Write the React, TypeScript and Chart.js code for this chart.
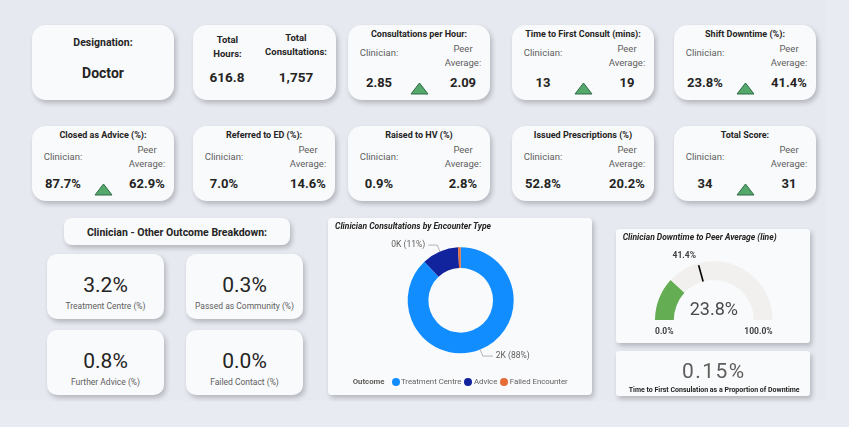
import React, { useEffect, useRef } from "react";
import { Chart, registerables } from "chart.js";

Chart.register(...registerables);

const FONT = 'Roboto, "DejaVu Sans", sans-serif';

// ---------- data ----------
const designationLabel = "Designation:";
const designation = "Doctor";
const totalHours = "616.8";
const totalConsultations = "1,757";

const row1Titles = ["Consultations per Hour:", "Time to First Consult (mins):", "Shift Downtime (%):"];
const row1Clinician = ["2.85", "13", "23.8%"];
const row1Peer = ["2.09", "19", "41.4%"];
const row1Up = [true, true, true];

const row2Titles = ["Closed as Advice (%):", "Referred to ED (%):", "Raised to HV (%)", "Issued Prescriptions (%)", "Total Score:"];
const row2Clinician = ["87.7%", "7.0%", "0.9%", "52.8%", "34"];
const row2Peer = ["62.9%", "14.6%", "2.8%", "20.2%", "31"];
const row2Up = [true, false, false, false, true];

const breakdownHeader = "Clinician - Other Outcome Breakdown:";
const breakdownLabels = ["Treatment Centre (%)", "Passed as Community (%)", "Further Advice (%)", "Failed Contact (%)"];
const breakdownValues = ["3.2%", "0.3%", "0.8%", "0.0%"];

const donutTitle = "Clinician Consultations by Encounter Type";
const donutLegendTitle = "Outcome";
const donutLabels = ["Treatment Centre", "Advice", "Failed Encounter"];
const donutValues = [1546, 197, 14];

const gaugeTitle = "Clinician Downtime to Peer Average (line)";
const gaugeValue = 23.8;
const gaugeTarget = 41.4;
const gaugeMin = 0;
const gaugeMax = 100;

const ratioValue = "0.15%";
const ratioLabel = "Time to First Consulation as a Proportion of Downtime";

// ---------- styles ----------
const donutColors = ["#118DFF", "#12239E", "#E66C37"];
const gaugeColors = ["#64AD52", "#F1F0EE"];
const BG = "#E7E9F1";
const CARD = "#F9FAFC";
const DARK = "#252423";
const GREY = "#605E5C";
const cardX = [32, 193, 348, 512, 674];
const CARD_W = 142;

type TProps = {
  x: number; y: number; align?: "left" | "center" | "right";
  size: number; weight?: number; color?: string; italic?: boolean; spacing?: number;
  children: React.ReactNode;
};
function T({ x, y, align = "center", size, weight = 400, color = DARK, italic, spacing, children }: TProps) {
  const tx = align === "left" ? "0" : align === "right" ? "-100%" : "-50%";
  return (
    <div
      style={{
        position: "absolute", left: x, top: y, transform: `translate(${tx}, -50%)`,
        whiteSpace: "nowrap", lineHeight: 1, fontSize: size, fontWeight: weight, color,
        fontStyle: italic ? "italic" : "normal", fontFamily: FONT, letterSpacing: spacing,
      }}
    >
      {children}
    </div>
  );
}

function Card({ x, y, w, h, r, children }: { x: number; y: number; w: number; h: number; r: number; children?: React.ReactNode }) {
  return (
    <div
      style={{
        position: "absolute", left: x, top: y, width: w, height: h, borderRadius: r,
        background: CARD, boxShadow: "2px 3px 5px rgba(0,0,0,0.22)", overflow: "visible",
      }}
    >
      {children}
    </div>
  );
}

function Triangle({ cx, base }: { cx: number; base: number }) {
  return (
    <svg width={19} height={13} style={{ position: "absolute", left: cx - 9.5, top: base - 12 }}>
      <polygon points="9.5,1 18,12 1,12" fill="#55A86C" stroke="#2E6A44" strokeWidth={1} />
    </svg>
  );
}

function CompareCard({ x, y, title, clin, peer, up, labelY, valueY }: {
  x: number; y: number; title: string; clin: string; peer: string; up: boolean; labelY: number; valueY: number;
}) {
  return (
    <Card x={x} y={y} w={CARD_W} h={75} r={14}>
      <T x={71} y={8.5} size={9} weight={700}>{title}</T>
      <T x={31} y={labelY} size={9.5} color={GREY}>Clinician:</T>
      <T x={115} y={23.5} size={9.5} color={GREY}>Peer</T>
      <T x={115} y={37.5} size={9.5} color={GREY}>Average:</T>
      <T x={31} y={valueY} size={13} weight={700}>{clin}</T>
      <T x={115} y={valueY} size={13} weight={700}>{peer}</T>
      {up && <Triangle cx={71} base={69} />}
    </Card>
  );
}

function Donut() {
  const ref = useRef<HTMLCanvasElement>(null);
  useEffect(() => {
    if (!ref.current) return;
    const total = donutValues.reduce((a, b) => a + b, 0);
    const labelPlugin = {
      id: "donutLabels",
      afterDatasetsDraw(chart: any) {
        const ctx = chart.ctx;
        const meta = chart.getDatasetMeta(0);
        meta.data.forEach((arc: any, i: number) => {
          const v = donutValues[i];
          const pct = (v / total) * 100;
          if (pct < 5) return;
          const p = arc.getProps(["x", "y", "startAngle", "endAngle", "outerRadius"], true);
          const mid = (p.startAngle + p.endAngle) / 2;
          const c = Math.cos(mid), s = Math.sin(mid);
          const p1x = p.x + c * p.outerRadius, p1y = p.y + s * p.outerRadius;
          const p2x = p.x + c * (p.outerRadius + 7), p2y = p.y + s * (p.outerRadius + 7);
          const right = c >= 0;
          const p3x = p2x + (right ? 10 : -9);
          ctx.save();
          ctx.strokeStyle = "#B3B3B3";
          ctx.lineWidth = 1;
          ctx.beginPath();
          ctx.moveTo(p1x, p1y);
          ctx.lineTo(p2x, p2y);
          ctx.lineTo(p3x, p2y);
          ctx.stroke();
          ctx.font = `8.5px ${FONT}`;
          ctx.fillStyle = GREY;
          ctx.textBaseline = "middle";
          ctx.textAlign = right ? "left" : "right";
          ctx.fillText(`${Math.round(v / 1000)}K (${Math.round(pct)}%)`, p3x + (right ? 3 : -3), p2y);
          ctx.restore();
        });
      },
    };
    const chart = new Chart(ref.current, {
      type: "doughnut",
      data: {
        labels: donutLabels,
        datasets: [{ data: donutValues, backgroundColor: donutColors, borderWidth: 0 }],
      },
      options: {
        responsive: false,
        animation: false,
        events: [],
        cutout: "61%",
        layout: { padding: { left: 79.7, top: 29.3, right: 78.3, bottom: 41.7 } },
        plugins: { legend: { display: false }, tooltip: { enabled: false } },
      },
      plugins: [labelPlugin],
    } as any);
    return () => chart.destroy();
  }, []);
  return <canvas ref={ref} width={264} height={177} style={{ position: "absolute", left: 0, top: 0 }} />;
}

function Gauge() {
  const ref = useRef<HTMLCanvasElement>(null);
  useEffect(() => {
    if (!ref.current) return;
    const gaugePlugin = {
      id: "gaugeExtras",
      afterDatasetsDraw(chart: any) {
        const ctx = chart.ctx;
        const meta = chart.getDatasetMeta(0);
        const a0 = meta.data[0].getProps(["x", "y", "startAngle", "innerRadius", "outerRadius"], true);
        const a1 = meta.data[meta.data.length - 1].getProps(["endAngle"], true);
        const frac = (gaugeTarget - gaugeMin) / (gaugeMax - gaugeMin);
        const ang = a0.startAngle + (a1.endAngle - a0.startAngle) * frac;
        const c = Math.cos(ang), s = Math.sin(ang);
        ctx.save();
        ctx.strokeStyle = "#000";
        ctx.lineWidth = 1.6;
        ctx.beginPath();
        ctx.moveTo(a0.x + c * a0.innerRadius, a0.y + s * a0.innerRadius);
        ctx.lineTo(a0.x + c * (a0.outerRadius - 2), a0.y + s * (a0.outerRadius - 2));
        ctx.stroke();
        ctx.textBaseline = "middle";
        ctx.fillStyle = "#3F3F3F";
        ctx.font = `700 8.5px ${FONT}`;
        ctx.textAlign = "right";
        ctx.fillText(`${gaugeTarget.toFixed(1)}%`, a0.x + c * (a0.outerRadius + 8), a0.y + s * (a0.outerRadius + 8));
        ctx.textAlign = "left";
        ctx.fillText(`${gaugeMin.toFixed(1)}%`, a0.x - a0.outerRadius, a0.y + 11.7);
        ctx.textAlign = "right";
        ctx.fillText(`${gaugeMax.toFixed(1)}%`, a0.x + a0.outerRadius, a0.y + 11.7);
        ctx.fillStyle = "#4A4A4A";
        ctx.font = `400 18px ${FONT}`;
        ctx.textAlign = "center";
        ctx.fillText(`${gaugeValue.toFixed(1)}%`, a0.x, a0.y - 9.5);
        ctx.restore();
      },
    };
    const chart = new Chart(ref.current, {
      type: "doughnut",
      data: {
        labels: ["Value", "Remaining"],
        datasets: [{ data: [gaugeValue - gaugeMin, gaugeMax - gaugeValue], backgroundColor: gaugeColors, borderWidth: 0 }],
      },
      options: {
        responsive: false,
        animation: false,
        events: [],
        rotation: -90,
        circumference: 180,
        cutout: "68%",
        layout: { padding: { left: 39, top: 32.2, right: 37.4, bottom: 23 } },
        plugins: { legend: { display: false }, tooltip: { enabled: false } },
      },
      plugins: [gaugePlugin],
    } as any);
    return () => chart.destroy();
  }, []);
  return <canvas ref={ref} width={194} height={114} style={{ position: "absolute", left: 0, top: 0 }} />;
}

export default function App() {
  return (
    <div style={{ position: "fixed", left: 0, top: 0, width: 849, height: 427, background: "#E9EBF2", overflow: "hidden", fontFamily: FONT }}>
      <div style={{ position: "absolute", left: 0, top: 0, width: 826, height: 401, background: BG }} />

      {/* Row 1 */}
      <Card x={cardX[0]} y={25} w={CARD_W} h={75} r={14}>
        <T x={71} y={17.7} size={10.5} weight={700}>{designationLabel}</T>
        <T x={71} y={48.3} size={14} weight={700}>{designation}</T>
      </Card>
      <Card x={cardX[1]} y={25} w={CARD_W + 1} h={75} r={14}>
        <T x={34.5} y={15} size={9.5} weight={700}>Total</T>
        <T x={34.5} y={29} size={9.5} weight={700}>Hours:</T>
        <T x={103} y={12.7} size={9.5} weight={700}>Total</T>
        <T x={103} y={27.3} size={9.5} weight={700}>Consultations:</T>
        <T x={34} y={52.5} size={13.5} weight={700}>{totalHours}</T>
        <T x={103} y={52.5} size={13.5} weight={700}>{totalConsultations}</T>
      </Card>
      {row1Titles.map((t, i) => (
        <CompareCard key={"r1" + i} x={cardX[i + 2]} y={25} title={t} clin={row1Clinician[i]} peer={row1Peer[i]} up={row1Up[i]} labelY={28.4} valueY={57.3} />
      ))}

      {/* Row 2 */}
      {row2Titles.map((t, i) => (
        <CompareCard key={"r2" + i} x={cardX[i]} y={126} title={t} clin={row2Clinician[i]} peer={row2Peer[i]} up={row2Up[i]} labelY={31.3} valueY={56.5} />
      ))}

      {/* Breakdown */}
      <Card x={64} y={218} w={226} h={27} r={8}>
        <T x={113} y={14.7} size={10.5} weight={700}>{breakdownHeader}</T>
      </Card>
      {breakdownLabels.map((l, i) => {
        const x = i % 2 === 0 ? 47 : 186;
        const y = i < 2 ? 254 : 330;
        return (
          <Card key={"b" + i} x={x} y={y} w={117} h={65} r={10}>
            <T x={58.5} y={31} size={21} weight={400} color="#252423">{breakdownValues[i]}</T>
            <T x={58.5} y={52} size={8.5} color={GREY}>{l}</T>
          </Card>
        );
      })}

      {/* Donut */}
      <Card x={328} y={218} w={264} h={177} r={4}>
        <Donut />
        <T x={7} y={7.7} align="left" size={8.5} weight={700} italic>{donutTitle}</T>
        <div style={{ position: "absolute", left: 24.7, top: 163.7, transform: "translateY(-50%)", display: "flex", alignItems: "center", whiteSpace: "nowrap", fontFamily: FONT, fontSize: 7.8, color: GREY, lineHeight: 1 }}>
          <span style={{ fontWeight: 700, marginRight: 7 }}>{donutLegendTitle}</span>
          {donutLabels.map((l, i) => (
            <span key={l} style={{ display: "flex", alignItems: "center", marginRight: 3 }}>
              <span style={{ width: 8, height: 8, borderRadius: 4, background: donutColors[i], marginRight: 1.5, display: "inline-block" }} />
              {l}
            </span>
          ))}
        </div>
      </Card>

      {/* Gauge */}
      <Card x={616} y={229} w={194} h={114} r={3}>
        <Gauge />
        <T x={6.7} y={7.7} align="left" size={8.5} weight={700} italic>{gaugeTitle}</T>
      </Card>
      <Card x={616} y={351} w={194} h={45} r={3}>
        <T x={97.8} y={19.7} size={21} color={GREY} spacing={1.5}>{ratioValue}</T>
        <T x={98.2} y={39} size={7} weight={700}>{ratioLabel}</T>
      </Card>
    </div>
  );
}
